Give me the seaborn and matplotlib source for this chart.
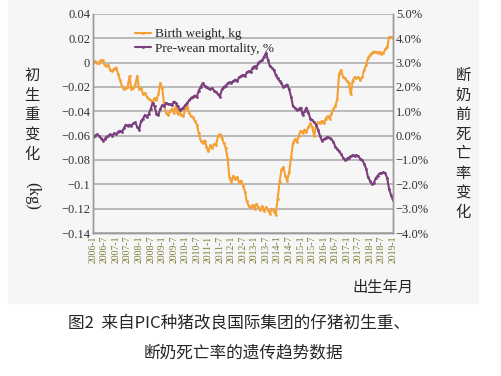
import numpy as np
import pandas as pd
import seaborn as sns
import matplotlib.pyplot as plt
from matplotlib.patches import Rectangle

sns.set_theme(style="white")
plt.rcParams['font.family'] = ['Liberation Serif', 'Noto Sans CJK SC', 'DejaVu Sans']
plt.rcParams['axes.unicode_minus'] = True

# birth weight change (kg), monthly 2006-1 .. 2019-1
birth_weight = [
    0.000, 0.001, 0.000, 0.000, 0.002, 0.002, -0.002, -0.003, -0.002, -0.006,
    -0.007, -0.005, -0.004, -0.009, -0.014, -0.019, -0.022, -0.021, -0.020, -0.011,
    -0.022, -0.021, -0.018, -0.011, -0.022, -0.021, -0.026, -0.025, -0.028, -0.030,
    -0.031, -0.033, -0.029, -0.031, -0.026, -0.017, -0.021, -0.035, -0.041, -0.043,
    -0.040, -0.038, -0.041, -0.036, -0.042, -0.040, -0.043, -0.044, -0.038, -0.036,
    -0.041, -0.044, -0.045, -0.048, -0.051, -0.058, -0.064, -0.066, -0.064, -0.069,
    -0.073, -0.068, -0.070, -0.067, -0.068, -0.060, -0.059, -0.062, -0.066, -0.070,
    -0.079, -0.095, -0.098, -0.093, -0.096, -0.094, -0.099, -0.097, -0.101, -0.106,
    -0.114, -0.118, -0.119, -0.117, -0.120, -0.116, -0.119, -0.121, -0.118, -0.122,
    -0.119, -0.121, -0.124, -0.120, -0.122, -0.125, -0.112, -0.098, -0.088, -0.086,
    -0.093, -0.097, -0.090, -0.078, -0.066, -0.063, -0.065, -0.060, -0.056, -0.058,
    -0.055, -0.057, -0.053, -0.050, -0.053, -0.060, -0.052, -0.049, -0.050, -0.048,
    -0.050, -0.046, -0.044, -0.046, -0.042, -0.038, -0.036, -0.030, -0.009, -0.006,
    -0.012, -0.013, -0.015, -0.017, -0.026, -0.015, -0.012, -0.013, -0.012, -0.014,
    -0.012, -0.006, -0.002, 0.004, 0.006, 0.008, 0.009, 0.009, 0.008, 0.009,
    0.007, 0.008, 0.011, 0.013, 0.021, 0.021, 0.020,
]

# pre-wean mortality change (%), monthly 2006-1 .. 2019-1
mortality = [
    -0.05, 0.00, 0.05, 0.00, -0.10, -0.20, -0.15, -0.05, 0.00, 0.05,
    0.00, 0.10, 0.05, 0.15, 0.20, 0.15, 0.30, 0.45, 0.40, 0.45,
    0.40, 0.50, 0.55, 0.35, 0.25, 0.60, 0.70, 0.85, 0.75, 0.90,
    1.10, 1.35, 1.20, 0.90, 0.85, 1.10, 1.25, 1.20, 1.35, 1.30,
    1.30, 1.25, 1.40, 1.35, 1.20, 1.05, 1.10, 1.15, 1.25, 1.35,
    1.45, 1.55, 1.60, 1.65, 1.60, 1.85, 2.00, 2.15, 2.05, 2.00,
    1.95, 1.90, 1.95, 1.85, 1.80, 1.70, 1.60, 1.90, 2.00, 2.05,
    2.15, 2.20, 2.15, 2.25, 2.30, 2.25, 2.40, 2.45, 2.50, 2.45,
    2.60, 2.65, 2.60, 2.80, 2.85, 2.80, 3.00, 3.05, 3.10, 3.25,
    3.40, 3.10, 2.85, 2.80, 2.70, 2.50, 2.35, 2.25, 2.15, 2.00,
    2.05, 2.10, 1.90, 1.60, 1.20, 1.15, 1.05, 1.10, 1.15, 0.85,
    1.00, 1.15, 0.95, 0.70, 0.65, 0.55, 0.45, 0.25, 0.00, -0.20,
    -0.15, -0.10, -0.05, -0.10, -0.15, -0.25, -0.45, -0.55, -0.65, -0.75,
    -0.90, -1.00, -0.95, -0.90, -0.85, -0.80, -0.85, -0.80, -0.85, -0.95,
    -1.00, -1.15, -1.35, -1.70, -1.85, -2.00, -1.95, -1.75, -1.65, -1.55,
    -1.55, -1.50, -1.55, -1.75, -2.20, -2.45, -2.65,
]

tick_labels = [
    "2006-1", "2006-7", "2007-1", "2007-7", "2008-1", "2008-7", "2009-1",
    "2009-7", "2010-1", "2010-7", "2011-1", "2011-7", "2012-1", "2012-7",
    "2013-1", "2013-7", "2014-1", "2014-7", "2015-1", "2015-7", "2016-1",
    "2016-7", "2017-1", "2017-7", "2018-1", "2018-7", "2019-1",
]
left_ticks = [0.04, 0.02, 0, -0.02, -0.04, -0.06, -0.08, -0.1, -0.12, -0.14]
left_labels = ["0.04", "0.02", "0", "\u22120.02", "\u22120.04", "\u22120.06",
               "\u22120.08", "\u22120.1", "\u22120.12", "\u22120.14"]
right_ticks = [5, 4, 3, 2, 1, 0, -1, -2, -3, -4]

df = pd.DataFrame({'month': np.arange(len(birth_weight)),
                   'bw': birth_weight, 'pwm': mortality})

fig = plt.figure(figsize=(5.01, 3.76), dpi=100)
fig.patches.append(Rectangle((8 / 501, 1 - 303 / 376), 470 / 501, 303 / 376,
                             transform=fig.transFigure, color='#f6f6f6', zorder=-10))
ax = fig.add_axes([93 / 501, 1 - 233 / 376, 300 / 501, 219 / 376])
ax.patch.set_alpha(0)
ax2 = ax.twinx()

orange = '#f5a033'
purple = '#7a3f7c'
sns.lineplot(data=df, x='month', y='bw', ax=ax, color=orange, lw=1.5,
             marker='o', markersize=2, markeredgewidth=0, label='Birth weight, kg', legend=False)
sns.lineplot(data=df, x='month', y='pwm', ax=ax2, color=purple, lw=1.5,
             marker='o', markersize=2, markeredgewidth=0, label='Pre-wean mortality, %', legend=False)

ax.set_xlim(0, 156)
ax.set_ylim(-0.14, 0.04)
ax2.set_ylim(-4, 5)
ax.set_yticks(left_ticks)
ax.set_yticklabels(left_labels, fontsize=9)
ax2.set_yticks(right_ticks)
ax2.set_yticklabels([f"{'\u2212' if v < 0 else ''}{abs(v):.1f}%" for v in right_ticks], fontsize=9)
ax.set_xticks(np.arange(0, 157, 6))
ax.set_xticklabels(tick_labels, rotation=90, fontsize=7, color='#7c7c36')
ax.grid(axis='y', color='#a8a8a8', lw=1.1)
ax.set_axisbelow(True)
ax.set_xlabel('')
ax.set_ylabel('')
ax2.set_ylabel('')
ax.tick_params(axis='y', pad=2, length=0, colors='#333333')
ax2.tick_params(axis='y', pad=2, length=0, colors='#333333')
ax.tick_params(axis='x', pad=2, length=0)
for a in (ax, ax2):
    a.spines['top'].set_visible(False)
    for s in ('left', 'right', 'bottom'):
        a.spines[s].set_color('#9a9a9a')
        a.spines[s].set_linewidth(1.0)

h1, l1 = ax.get_legend_handles_labels()
h2, l2 = ax2.get_legend_handles_labels()
ax.legend(h1 + h2, l1 + l2, loc='upper left', bbox_to_anchor=(0.1, 0.99), frameon=False,
          fontsize=9.5, handlelength=1.2, handletextpad=0.3, labelspacing=0.15)

cjk = ['Noto Sans CJK SC', 'DejaVu Sans']
fig.text(32 / 501, 1 - 115 / 376, "初\n生\n重\n变\n化", family=cjk, fontsize=11,
         ha='center', va='center', linespacing=1.2)
fig.text(32 / 501, 1 - 196 / 376, "(kg)", family=['Liberation Serif'], fontsize=12,
         ha='center', va='center', rotation=270)
fig.text(463 / 501, 1 - 144 / 376, "断\n奶\n前\n死\n亡\n率\n变\n化", family=cjk, fontsize=11,
         ha='center', va='center', linespacing=1.2)
fig.text(383 / 501, 1 - 287 / 376, "出生年月", family=cjk, fontsize=11,
         ha='center', va='center')
fig.text(239 / 501, 1 - 323 / 376, "图2  来自PIC种猪改良国际集团的仔猪初生重、", family=cjk,
         fontsize=12, ha='center', va='center')
fig.text(243 / 501, 1 - 353 / 376, "断奶死亡率的遗传趋势数据", family=cjk,
         fontsize=12, ha='center', va='center')

fig.savefig('out.png', dpi=100, facecolor='white')
